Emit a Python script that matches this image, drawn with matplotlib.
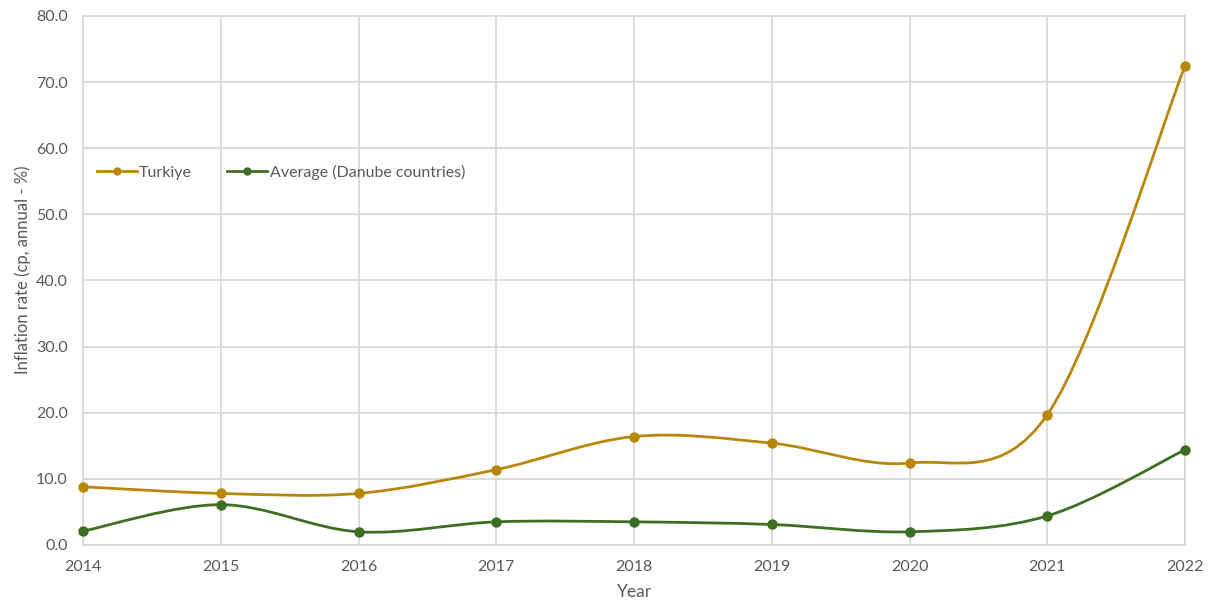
import matplotlib
matplotlib.use("Agg")
import matplotlib.pyplot as plt
from matplotlib.path import Path
from matplotlib.patches import PathPatch

plt.rcParams['font.family'] = ['Lato', 'DejaVu Sans']

years = [2014, 2015, 2016, 2017, 2018, 2019, 2020, 2021, 2022]
turkiye = [8.8, 7.8, 7.8, 11.4, 16.4, 15.4, 12.4, 19.7, 72.5]
danube_avg = [2.1, 6.1, 2.0, 3.5, 3.5, 3.1, 2.0, 4.4, 14.4]

series_names = ["Turkiye", "Average (Danube countries)"]
series_colors = ["#B8870A", "#3E6E24"]
y_ticks = [0, 10, 20, 30, 40, 50, 60, 70, 80]
text_color = "#595959"
grid_color = "#D9D9D9"


def smooth_path(xs, ys):
    """Catmull-Rom style smoothing expressed as cubic Bezier segments."""
    n = len(xs)
    verts = [(xs[0], ys[0])]
    codes = [Path.MOVETO]
    for i in range(n - 1):
        p0 = (xs[max(i - 1, 0)], ys[max(i - 1, 0)])
        p1 = (xs[i], ys[i])
        p2 = (xs[i + 1], ys[i + 1])
        p3 = (xs[min(i + 2, n - 1)], ys[min(i + 2, n - 1)])
        c1 = (p1[0] + (p2[0] - p0[0]) / 6, p1[1] + (p2[1] - p0[1]) / 6)
        c2 = (p2[0] - (p3[0] - p1[0]) / 6, p2[1] - (p3[1] - p1[1]) / 6)
        verts += [c1, c2, p2]
        codes += [Path.CURVE4] * 3
    return Path(verts, codes)


fig = plt.figure(figsize=(12.09, 6.03), dpi=100)
ax = fig.add_axes([0.0687, 0.0962, 0.9115, 0.8773])

for vals, name, col in zip([turkiye, danube_avg], series_names, series_colors):
    patch = PathPatch(smooth_path(years, vals), facecolor="none",
                      edgecolor=col, lw=2.0, zorder=3, clip_on=False,
                      capstyle="round")
    ax.add_patch(patch)
    ax.plot(years, vals, linestyle="none", marker="o", ms=6.5, color=col,
            zorder=4, clip_on=False)
    ax.plot([], [], color=col, lw=2.0, marker="o", ms=5, label=name)

ax.set_xlim(2014, 2022)
ax.set_ylim(0, 80)
ax.set_xticks(years)
ax.set_xticklabels([str(y) for y in years])
ax.set_yticks(y_ticks)
ax.set_yticklabels([f"{v:.1f}" for v in y_ticks])

ax.grid(True, color=grid_color, lw=1.3, zorder=0)
ax.set_axisbelow(True)
for sp in ax.spines.values():
    sp.set_color(grid_color)
    sp.set_linewidth(1.3)

ax.tick_params(axis="both", length=0, colors=text_color, labelsize=11.5)
ax.tick_params(axis="x", pad=11)
ax.tick_params(axis="y", pad=11)

ax.set_xlabel("Year", color=text_color, fontsize=12.5, labelpad=7)
ax.set_ylabel("Inflation rate (cp, annual - %)", color=text_color,
              fontsize=12, labelpad=9)
ax.yaxis.set_label_coords(-0.047, 0.52)

leg = ax.legend(loc="center left", bbox_to_anchor=(0.0125, 0.705), ncol=2,
                frameon=False, fontsize=11.5, handlelength=2.5,
                handletextpad=0.15, columnspacing=2.2, borderpad=0,
                borderaxespad=0)
for t in leg.get_texts():
    t.set_color(text_color)

fig.savefig("out.png", dpi=100, facecolor="white")
